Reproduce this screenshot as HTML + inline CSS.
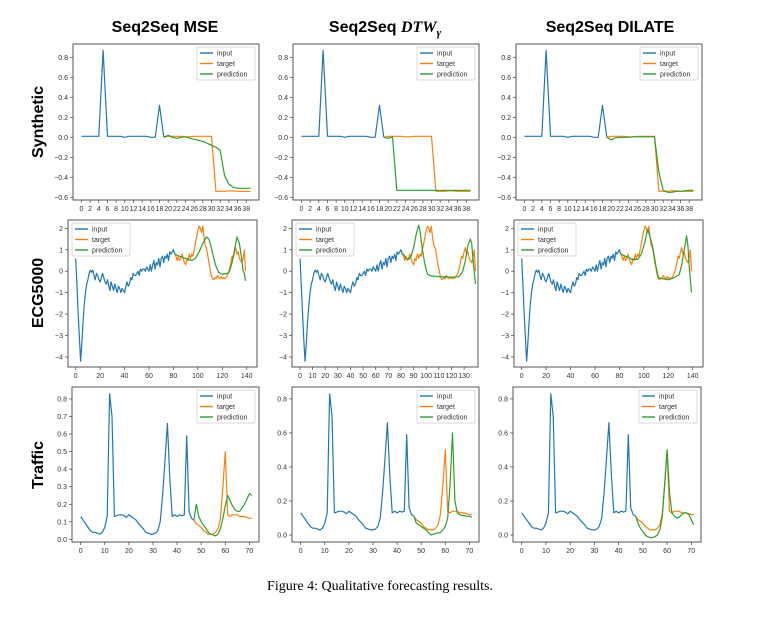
<!DOCTYPE html>
<html><head><meta charset="utf-8"><style>
body{margin:0;background:#fff;width:758px;height:618px;overflow:hidden}
svg{display:block}
</style></head><body>
<svg id="fig" width="758" height="618" xmlns="http://www.w3.org/2000/svg">
<g font-family="Liberation Sans, sans-serif" font-weight="bold" font-size="16" text-anchor="middle" fill="#000">
<text x="165" y="32">Seq2Seq MSE</text>
<text x="385" y="32">Seq2Seq <tspan font-family="Liberation Serif, serif" font-style="italic">DTW</tspan><tspan font-family="Liberation Serif, serif" font-style="italic" font-size="11" dy="4">γ</tspan></text>
<text x="610" y="32">Seq2Seq DILATE</text>
<text transform="translate(43,122) rotate(-90)">Synthetic</text>
<text transform="translate(43,293) rotate(-90)">ECG5000</text>
<text transform="translate(43,465) rotate(-90)">Traffic</text>
</g>
<text x="380" y="590" font-family="Liberation Serif, serif" font-size="14" text-anchor="middle">Figure 4: Qualitative forecasting results.</text>
</svg>
<script>
// ---- Synthetic data ----
const synInput = [0.01,0.01,0.01,0.01,0.01,0.87,0.01,0.01,0.01,0.01,0.0,0.01,0.01,0.01,0.01,0.01,0.0,0.0,0.32,0.0];
const synTarget = [0.0,0.01,0.01,0.01,0.01,0.005,0.005,0.01,0.01,0.01,0.01,0.01,-0.54,-0.54,-0.54,-0.535,-0.535,-0.54,-0.54,-0.54,-0.54];
const synPredMSE = [0.0,0.02,0.0,-0.01,0.0,0.005,-0.01,-0.02,-0.03,-0.04,-0.06,-0.08,-0.1,-0.13,-0.38,-0.47,-0.5,-0.51,-0.51,-0.51,-0.51];
const synPredDTW = [0.0,-0.01,0.005,-0.53,-0.53,-0.53,-0.53,-0.53,-0.53,-0.53,-0.53,-0.53,-0.53,-0.53,-0.53,-0.53,-0.53,-0.53,-0.53,-0.53,-0.53];
const synPredDIL = [0.0,-0.025,-0.005,0.0,0.0,0.0,0.005,0.005,0.005,0.005,0.005,0.005,-0.35,-0.53,-0.55,-0.55,-0.54,-0.54,-0.535,-0.53,-0.53];
// ---- ECG data ----
const ecgInput = [0.6,-0.6,-1.9,-3.1,-4.2,-3.4,-2.4,-1.6,-1.0,-0.6,-0.4,-0.1,0.05,-0.05,0.05,-0.2,-0.4,-0.1,-0.2,-0.4,-0.5,-0.3,-0.1,-0.3,-0.5,-0.6,-0.4,-0.7,-0.9,-0.5,-0.7,-0.9,-0.6,-0.8,-1.0,-0.7,-0.8,-1.0,-0.8,-0.9,-1.0,-0.7,-0.5,-0.7,-0.6,-0.3,-0.4,-0.1,-0.2,-0.2,-0.1,0.0,-0.2,0.1,0.0,0.1,0.1,0.0,0.2,0.1,0.0,0.3,0.0,0.3,0.5,0.1,0.4,0.3,0.6,0.2,0.6,0.7,0.4,0.7,0.6,0.8,0.5,0.9,0.8,0.9,1.0,0.8];
const ecgTarget = [0.8,0.7,0.5,0.7,0.5,0.6,0.8,0.6,0.4,0.3,0.6,0.5,0.8,0.6,0.8,0.7,1.0,1.3,1.6,1.9,2.1,2.0,1.8,2.1,1.6,1.2,1.1,0.8,0.4,0.1,-0.2,-0.35,-0.4,-0.3,-0.35,-0.2,-0.3,-0.35,-0.25,-0.35,-0.3,-0.35,-0.3,-0.2,-0.1,0.1,0.4,0.7,0.6,0.9,1.1,0.8,0.9,0.6,0.5,0.4,0.6,1.0,0.0];
const ecgPredMSEx = [81,85,90,95,98,101,104,107,109,111,113,115,117,120,124,126,128,130,132,134,136,137,138,139];
const ecgPredMSE  = [0.8,0.7,0.6,0.5,0.6,0.9,1.3,1.6,1.5,1.1,0.6,0.2,-0.05,-0.15,-0.1,0.0,0.4,1.0,1.6,1.3,0.5,0.0,-0.1,-0.45];
const ecgPredDTWx = [81,82,84,86,88,90,92,94,95,97,99,101,104,110,120,126,129,131,133,135,136,137,138,139];
const ecgPredDTW  = [0.8,0.8,0.6,0.55,0.7,1.1,1.7,2.15,1.9,1.0,0.3,-0.15,-0.22,-0.25,-0.28,-0.25,0.0,0.5,1.2,1.5,1.3,0.6,0.0,-0.6];
const ecgPredDILx = [81,85,90,95,98,101,103,104,107,110,112,115,120,125,129,131,133,135,136,137,139];
const ecgPredDIL  = [0.8,0.7,0.55,0.55,0.8,1.4,1.95,1.8,1.2,0.2,-0.3,-0.35,-0.4,-0.3,-0.15,0.3,1.0,1.65,1.2,0.3,-1.0];
// ---- Traffic data ----
const trInput = [0.13,0.11,0.09,0.07,0.05,0.04,0.04,0.035,0.03,0.04,0.07,0.13,0.83,0.7,0.13,0.135,0.14,0.14,0.135,0.125,0.14,0.13,0.12,0.11,0.09,0.075,0.06,0.04,0.035,0.03,0.03,0.035,0.05,0.1,0.25,0.45,0.66,0.35,0.13,0.14,0.13,0.14,0.135,0.14,0.59,0.16,0.12,0.11];
const trTarget = [0.11,0.09,0.08,0.07,0.05,0.04,0.03,0.03,0.03,0.04,0.06,0.12,0.3,0.5,0.14,0.13,0.14,0.14,0.14,0.13,0.13,0.13,0.125,0.12,0.12];
const trPredMSE = [0.11,0.2,0.13,0.1,0.08,0.06,0.04,0.03,0.025,0.02,0.03,0.06,0.12,0.19,0.25,0.22,0.19,0.17,0.16,0.16,0.18,0.2,0.23,0.26,0.25];
const trPredDTW = [0.11,0.07,0.06,0.05,0.04,0.03,0.015,0.0,0.005,0.01,0.012,0.015,0.03,0.05,0.1,0.3,0.6,0.2,0.13,0.12,0.115,0.115,0.11,0.11,0.105];
const trPredDIL = [0.11,0.07,0.04,0.02,0.0,-0.01,-0.015,-0.015,-0.01,0.0,0.03,0.1,0.3,0.5,0.25,0.13,0.11,0.1,0.105,0.12,0.13,0.13,0.12,0.09,0.06];

const C = ['#1f77b4','#ff7f0e','#2ca02c'];
const svg = document.getElementById('fig');
const NS = 'http://www.w3.org/2000/svg';
function mk(tag, attrs, parent){const e=document.createElementNS(NS,tag);for(const k in attrs)e.setAttribute(k,attrs[k]);(parent||svg).appendChild(e);return e;}
function seq(a,n){return Array.from({length:n},(_,i)=>a+i);}

function panel(p){
  const g = mk('g',{});
  
  
  const sx = v => p.x0 + (v - p.xl[0]) / (p.xl[1]-p.xl[0]) * (p.x1-p.x0);
  const sy = v => p.y1 - (v - p.yl[0]) / (p.yl[1]-p.yl[0]) * (p.y1-p.y0);
  const frame = mk('rect',{x:p.x0,y:p.y0,width:p.x1-p.x0,height:p.y1-p.y0,fill:'#fff',stroke:'#444','stroke-width':0.9},g);
  
  
  p.xt.forEach(t=>{
    const x=sx(t);
    mk('line',{x1:x,x2:x,y1:p.y1,y2:p.y1+3,stroke:'#444','stroke-width':0.7},g);
    const tx=mk('text',{x:x,y:p.y1+11,'font-size':7,'font-family':'Liberation Sans, sans-serif','text-anchor':'middle',fill:'#333'},g);
    tx.textContent=t;
    
    
  });
  p.yt.forEach(t=>{
    const y=sy(t);
    mk('line',{x1:p.x0-3,x2:p.x0,y1:y,y2:y,stroke:'#444','stroke-width':0.7},g);
    const tx=mk('text',{x:p.x0-5,y:y+2.5,'font-size':7,'font-family':'Liberation Sans, sans-serif','text-anchor':'end',fill:'#333'},g);
    tx.textContent=(t<0?'\u2212':'')+Math.abs(t).toFixed(p.yd);
    
    
  });
  p.series.forEach((s,i)=>{
    const pts=s.x.map((xv,j)=>sx(xv).toFixed(1)+','+sy(s.y[j]).toFixed(1)).join(' ');
    const l=mk('polyline',{points:pts,fill:'none',stroke:C[s.c],'stroke-width':1.2,'stroke-linejoin':'round'},g);
    
    
  });
  // legend
  const lw=58, lh=33;
  const lx = p.leg==='left' ? p.x0+4 : p.x1-lw-4;
  const ly = p.y0+3;
  const lg=mk('g',{},g);
  
  
  mk('rect',{x:lx,y:ly,width:lw,height:lh,fill:'#fff',stroke:'#ccc','stroke-width':0.7,rx:1.5},lg);
  ['input','target','prediction'].forEach((n,i)=>{
    const yy=ly+6+i*10.5;
    mk('line',{x1:lx+3,x2:lx+16,y1:yy,y2:yy,stroke:C[i],'stroke-width':1.4},lg);
    const t=mk('text',{x:lx+20,y:yy+2.5,'font-size':7,'font-family':'Liberation Sans, sans-serif',fill:'#333'},lg);
    t.textContent=n;
    
    
  });
}

const cols=[[73,259],[293,479],[516,702]];
const ecgCols=[[68,257],[292,478],[514,703]];
const trCols=[[72,259],[292,479],[513,701]];
const names=['mse','dtw','dilate'];
const synPreds=[synPredMSE,synPredDTW,synPredDIL];
const ecgPX=[ecgPredMSEx,ecgPredDTWx,ecgPredDILx], ecgPY=[ecgPredMSE,ecgPredDTW,ecgPredDIL];
const trPreds=[trPredMSE,trPredDTW,trPredDIL];
const synXT=seq(0,20).map(i=>i*2);
for(let c=0;c<3;c++){
  panel({name:'synthetic-'+names[c],x0:cols[c][0],x1:cols[c][1],y0:44,y1:200,xl:[-1.95,40.95],yl:[-0.627,0.933],
    xt:synXT,yt:[-0.6,-0.4,-0.2,0,0.2,0.4,0.6,0.8],yd:1,leg:'right',
    series:[{x:seq(0,20),y:synInput,c:0,n:'input-line'},{x:seq(19,21),y:synTarget,c:1,n:'target-line'},{x:seq(19,21),y:synPreds[c],c:2,n:'prediction-line'}]});
  panel({name:'ecg-'+names[c],x0:ecgCols[c][0],x1:ecgCols[c][1],y0:220,y1:367,xl:c===1?[-6.3,141]:[-6.3,148.4],yl:[-4.47,2.39],
    xt:c===1?seq(0,14).map(i=>i*10):[0,20,40,60,80,100,120,140],yt:[-4,-3,-2,-1,0,1,2],yd:0,leg:'left',
    series:[{x:seq(0,82),y:ecgInput,c:0,n:'input-line'},{x:seq(81,59),y:ecgTarget,c:1,n:'target-line'},{x:ecgPX[c],y:ecgPY[c],c:2,n:'prediction-line'}]});
  panel({name:'traffic-'+names[c],x0:trCols[c][0],x1:trCols[c][1],y0:387,y1:542,xl:[-3.6,74],yl:c===0?[-0.015,0.868]:[-0.041,0.87],
    xt:[0,10,20,30,40,50,60,70],yt:c===0?[0,0.1,0.2,0.3,0.4,0.5,0.6,0.7,0.8]:[0,0.2,0.4,0.6,0.8],yd:1,leg:'right',
    series:[{x:seq(0,48),y:trInput,c:0,n:'input-line'},{x:seq(47,25),y:trTarget,c:1,n:'target-line'},{x:seq(47,25),y:trPreds[c],c:2,n:'prediction-line'}]});
}
</script>
</body></html>
